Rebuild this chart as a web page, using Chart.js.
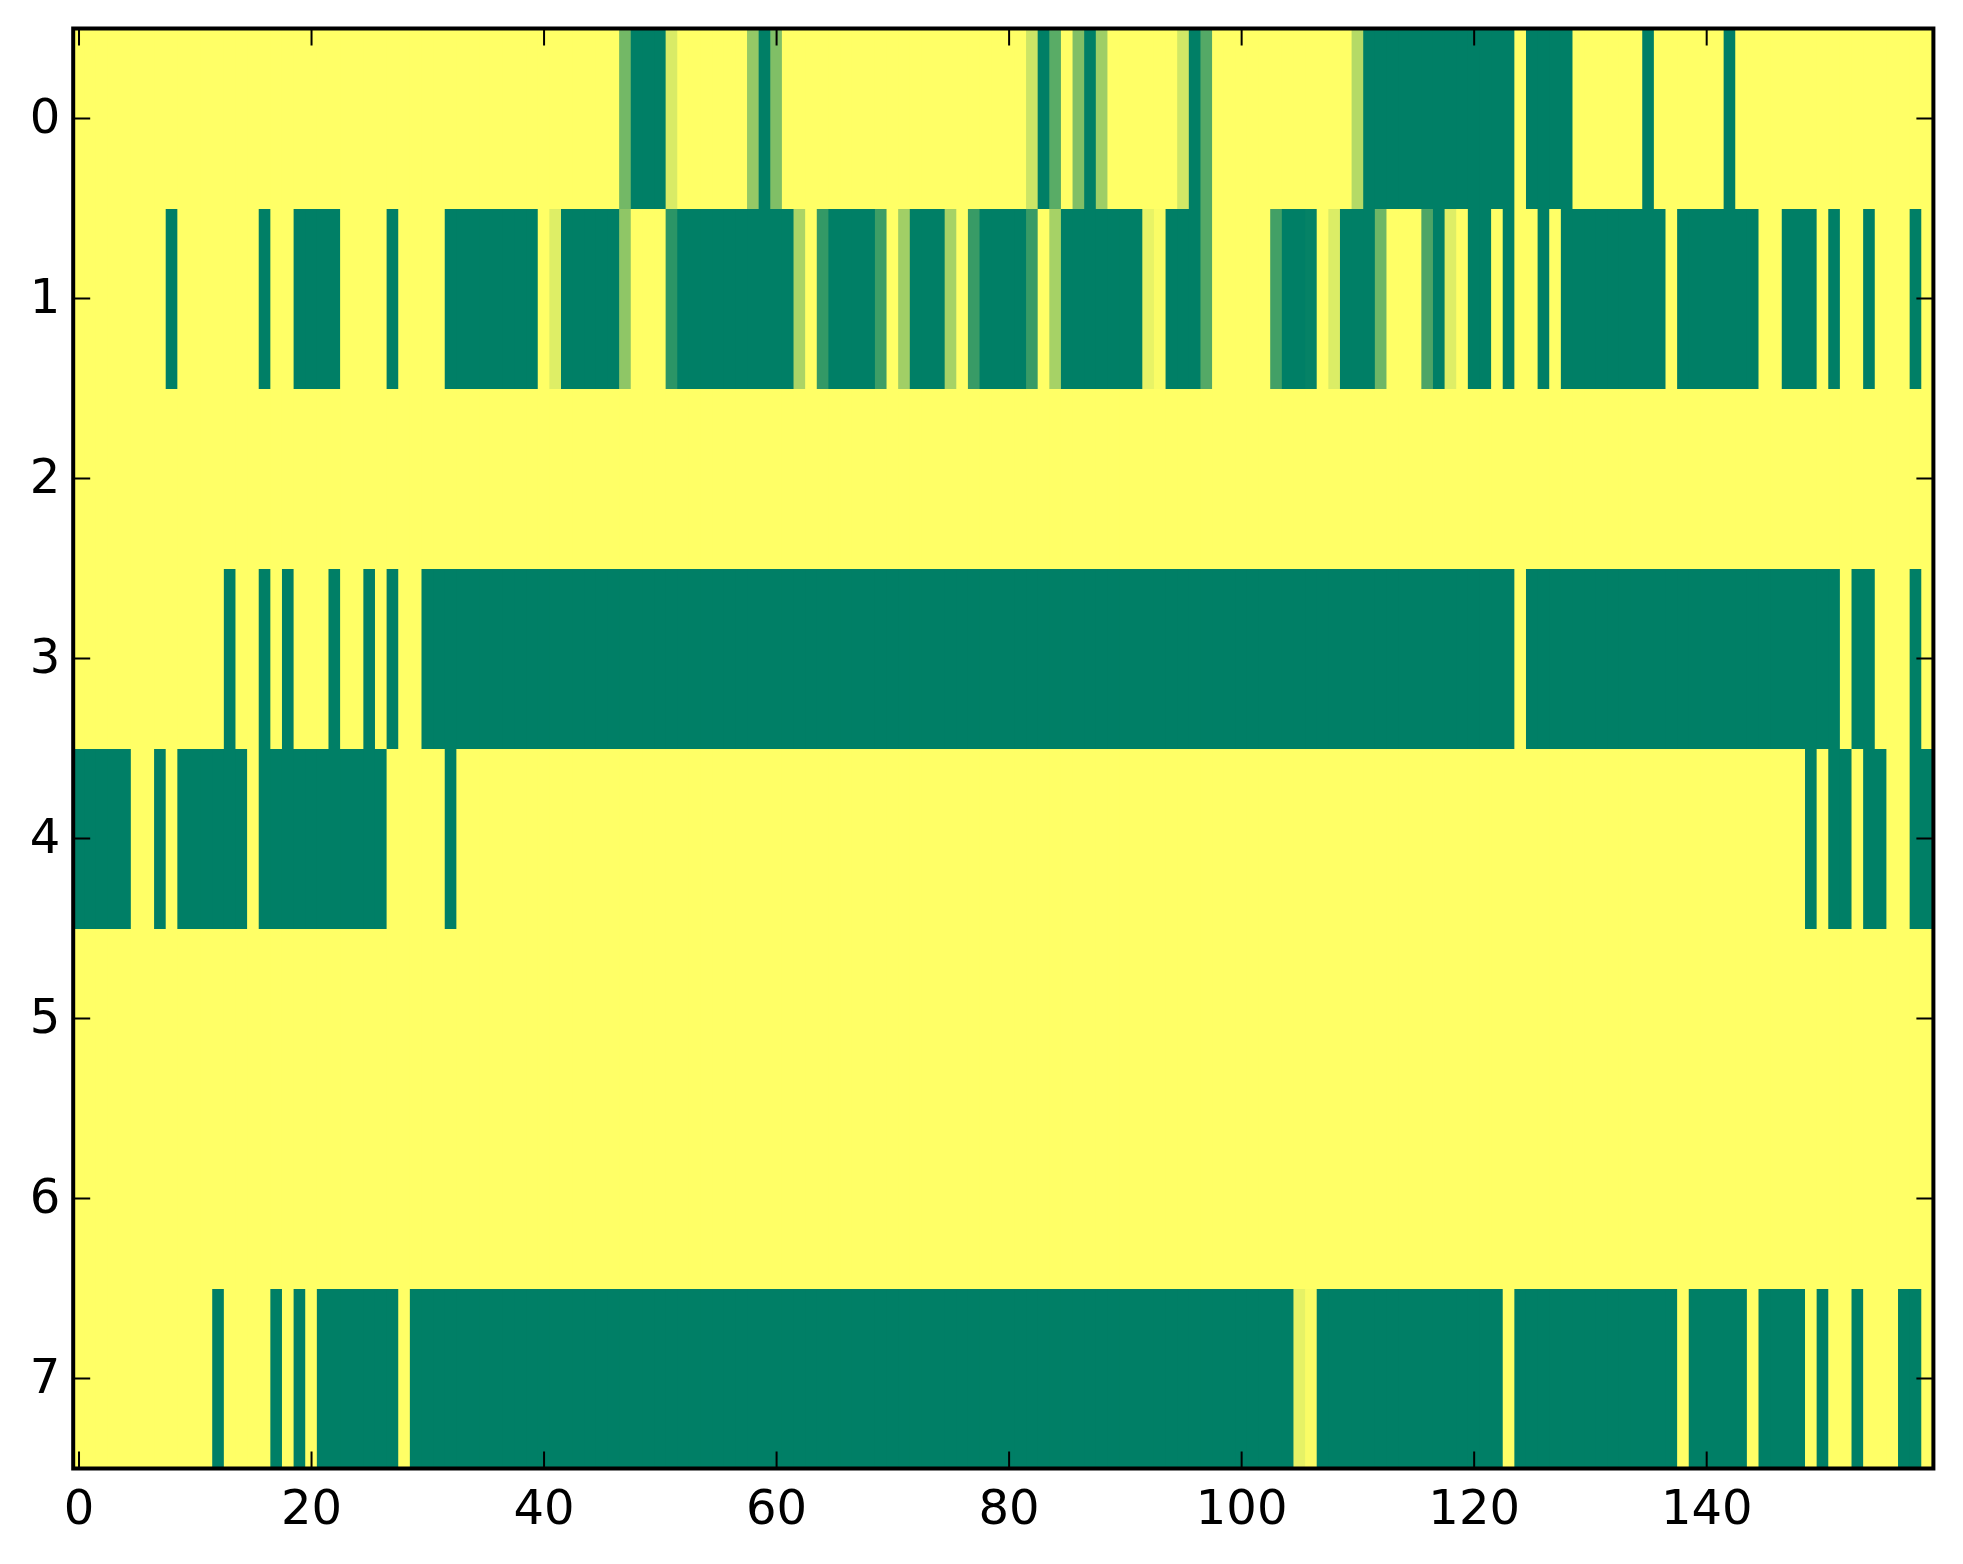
<!DOCTYPE html>
<html>
<head>
<meta charset="utf-8">
<title>Heatmap</title>
<style>
  html, body { margin: 0; padding: 0; background: #fff; }
  #wrap { width: 1963px; height: 1564px; }
</style>
</head>
<body>
<div id="wrap"><canvas id="myChart" width="1963" height="1564"></canvas></div>
<script src="https://cdn.jsdelivr.net/npm/chart.js"></script>
<script>
  // 1 = yellow end of the colormap, 0 = green end. 20 values per line.
  const row0 = [
    1,1,1,1,1,1,1,1,1,1,1,1,1,1,1,1,1,1,1,1,
    1,1,1,1,1,1,1,1,1,1,1,1,1,1,1,1,1,1,1,1,
    1,1,1,1,1,1,1,.45,0,0,0,.85,1,1,1,1,1,1,.58,0,
    .5,1,1,1,1,1,1,1,1,1,1,1,1,1,1,1,1,1,1,1,
    1,1,.8,0,.35,1,.5,0,.62,1,1,1,1,1,1,.82,0,.33,1,1,
    1,1,1,1,1,1,1,1,1,1,.71,0,0,0,0,0,0,0,0,0,
    0,0,0,0,1,0,0,0,0,1,1,1,1,1,1,0,1,1,1,1,
    1,1,0,1,1,1,1,1,1,1,1,1,1,1,1,1,1,1,1,1,
  ];
  const row1 = [
    1,1,1,1,1,1,1,1,0,1,1,1,1,1,1,1,0,1,1,0,
    0,0,0,1,1,1,1,0,1,1,1,1,0,0,0,0,0,0,0,0,
    1,.87,0,0,0,0,0,.56,1,1,1,.17,0,0,0,0,0,0,0,0,
    0,0,.67,1,.2,0,0,0,0,.24,1,.63,0,0,0,.65,1,.22,0,0,
    0,0,.22,1,.65,0,0,0,0,0,0,0,.91,.98,0,0,0,.33,1,1,
    1,1,1,.26,0,0,.02,1,.86,0,0,0,.43,1,1,1,.3,0,.87,1,
    0,0,1,0,1,1,0,1,0,0,0,0,0,0,0,0,0,1,0,0,
    0,0,0,0,0,1,1,0,0,0,1,0,1,1,0,1,1,1,0,1,
  ];
  const row2 = [
    1,1,1,1,1,1,1,1,1,1,1,1,1,1,1,1,1,1,1,1,
    1,1,1,1,1,1,1,1,1,1,1,1,1,1,1,1,1,1,1,1,
    1,1,1,1,1,1,1,1,1,1,1,1,1,1,1,1,1,1,1,1,
    1,1,1,1,1,1,1,1,1,1,1,1,1,1,1,1,1,1,1,1,
    1,1,1,1,1,1,1,1,1,1,1,1,1,1,1,1,1,1,1,1,
    1,1,1,1,1,1,1,1,1,1,1,1,1,1,1,1,1,1,1,1,
    1,1,1,1,1,1,1,1,1,1,1,1,1,1,1,1,1,1,1,1,
    1,1,1,1,1,1,1,1,1,1,1,1,1,1,1,1,1,1,1,1,
  ];
  const row3 = [
    1,1,1,1,1,1,1,1,1,1,1,1,1,0,1,1,0,1,0,1,
    1,1,0,1,1,0,1,0,1,1,0,0,0,0,0,0,0,0,0,0,
    0,0,0,0,0,0,0,0,0,0,0,0,0,0,0,0,0,0,0,0,
    0,0,0,0,0,0,0,0,0,0,0,0,0,0,0,0,0,0,0,0,
    0,0,0,0,0,0,0,0,0,0,0,0,0,0,0,0,0,0,0,0,
    0,0,0,0,0,0,0,0,0,0,0,0,0,0,0,0,0,0,0,0,
    0,0,0,0,1,0,0,0,0,0,0,0,0,0,0,0,0,0,0,0,
    0,0,0,0,0,0,0,0,0,0,0,0,1,0,0,1,1,1,0,1,
  ];
  const row4 = [
    0,0,0,0,0,1,1,0,1,0,0,0,0,0,0,1,0,0,0,0,
    0,0,0,0,0,0,0,1,1,1,1,1,0,1,1,1,1,1,1,1,
    1,1,1,1,1,1,1,1,1,1,1,1,1,1,1,1,1,1,1,1,
    1,1,1,1,1,1,1,1,1,1,1,1,1,1,1,1,1,1,1,1,
    1,1,1,1,1,1,1,1,1,1,1,1,1,1,1,1,1,1,1,1,
    1,1,1,1,1,1,1,1,1,1,1,1,1,1,1,1,1,1,1,1,
    1,1,1,1,1,1,1,1,1,1,1,1,1,1,1,1,1,1,1,1,
    1,1,1,1,1,1,1,1,1,0,1,0,0,1,0,0,1,1,0,0,
  ];
  const row5 = [
    1,1,1,1,1,1,1,1,1,1,1,1,1,1,1,1,1,1,1,1,
    1,1,1,1,1,1,1,1,1,1,1,1,1,1,1,1,1,1,1,1,
    1,1,1,1,1,1,1,1,1,1,1,1,1,1,1,1,1,1,1,1,
    1,1,1,1,1,1,1,1,1,1,1,1,1,1,1,1,1,1,1,1,
    1,1,1,1,1,1,1,1,1,1,1,1,1,1,1,1,1,1,1,1,
    1,1,1,1,1,1,1,1,1,1,1,1,1,1,1,1,1,1,1,1,
    1,1,1,1,1,1,1,1,1,1,1,1,1,1,1,1,1,1,1,1,
    1,1,1,1,1,1,1,1,1,1,1,1,1,1,1,1,1,1,1,1,
  ];
  const row6 = [
    1,1,1,1,1,1,1,1,1,1,1,1,1,1,1,1,1,1,1,1,
    1,1,1,1,1,1,1,1,1,1,1,1,1,1,1,1,1,1,1,1,
    1,1,1,1,1,1,1,1,1,1,1,1,1,1,1,1,1,1,1,1,
    1,1,1,1,1,1,1,1,1,1,1,1,1,1,1,1,1,1,1,1,
    1,1,1,1,1,1,1,1,1,1,1,1,1,1,1,1,1,1,1,1,
    1,1,1,1,1,1,1,1,1,1,1,1,1,1,1,1,1,1,1,1,
    1,1,1,1,1,1,1,1,1,1,1,1,1,1,1,1,1,1,1,1,
    1,1,1,1,1,1,1,1,1,1,1,1,1,1,1,1,1,1,1,1,
  ];
  const row7 = [
    1,1,1,1,1,1,1,1,1,1,1,1,0,1,1,1,1,0,1,0,
    1,0,0,0,0,0,0,0,1,0,0,0,0,0,0,0,0,0,0,0,
    0,0,0,0,0,0,0,0,0,0,0,0,0,0,0,0,0,0,0,0,
    0,0,0,0,0,0,0,0,0,0,0,0,0,0,0,0,0,0,0,0,
    0,0,0,0,0,0,0,0,0,0,0,0,0,0,0,0,0,0,0,0,
    0,0,0,0,0,.9,.98,0,0,0,0,0,0,0,0,0,0,0,0,0,
    0,0,0,1,0,0,0,0,0,0,0,0,0,0,0,0,0,0,1,0,
    0,0,0,0,1,0,0,0,0,1,0,1,1,0,1,1,1,0,0,1,
  ];
  const rows = [row0, row1, row2, row3, row4, row5, row6, row7];
  const xTicks = [0, 20, 40, 60, 80, 100, 120, 140];
  const yTicks = [0, 1, 2, 3, 4, 5, 6, 7];

  // matplotlib "summer" colormap
  function summer(v) {
    return `rgb(${Math.round(v * 255)},${Math.floor((0.5 + v / 2) * 255)},102)`;
  }

  const frame = {
    id: "frame",
    afterDraw(chart) {
      const { ctx, chartArea: a, scales } = chart;
      const len = 17;
      ctx.save();
      ctx.strokeStyle = "#000";
      ctx.lineWidth = 2;
      ctx.beginPath();
      xTicks.forEach((t) => {
        const x = scales.x.getPixelForValue(t);
        ctx.moveTo(x, a.top);
        ctx.lineTo(x, a.top + len);
        ctx.moveTo(x, a.bottom);
        ctx.lineTo(x, a.bottom - len);
      });
      yTicks.forEach((t) => {
        const y = scales.y.getPixelForValue(t);
        ctx.moveTo(a.left, y);
        ctx.lineTo(a.left + len, y);
        ctx.moveTo(a.right, y);
        ctx.lineTo(a.right - len, y);
      });
      ctx.stroke();
      ctx.lineWidth = 4;
      ctx.strokeRect(a.left, a.top, a.right - a.left, a.bottom - a.top);
      ctx.restore();
    },
  };

  const tickFont = { family: "'DejaVu Sans'", size: 48 };

  new Chart(document.getElementById("myChart"), {
    type: "bar",
    data: {
      datasets: rows.map((row, r) => ({
        label: "row " + r,
        data: row.map((v, i) => ({ x: i, y: [r - 0.5, r + 0.5] })),
        backgroundColor: row.map(summer),
        borderWidth: 0,
        inflateAmount: 0.5,
        barPercentage: 1,
        categoryPercentage: 1,
        grouped: false,
      })),
    },
    options: {
      responsive: false,
      animation: false,
      layout: { padding: { left: 0, top: 28.5, right: 29.6, bottom: 0 } },
      plugins: { legend: { display: false }, tooltip: { enabled: false } },
      scales: {
        x: {
          type: "linear",
          offset: false,
          min: -0.5,
          max: 159.5,
          grid: { display: false, offset: false },
          border: { display: false },
          afterBuildTicks: (s) => { s.ticks = xTicks.map((v) => ({ value: v })); },
          afterFit: (s) => { s.height = 95.5; s.paddingLeft = 0; s.paddingRight = 0; },
          ticks: { color: "#000", font: tickFont, padding: 6, maxRotation: 0, autoSkip: false },
        },
        y: {
          type: "linear",
          reverse: true,
          min: -0.5,
          max: 7.5,
          grid: { display: false },
          border: { display: false },
          afterBuildTicks: (s) => { s.ticks = yTicks.map((v) => ({ value: v })); },
          afterFit: (s) => { s.width = 73.2; s.paddingTop = 0; s.paddingBottom = 0; },
          ticks: { color: "#000", font: tickFont, padding: 5, labelOffset: 2, autoSkip: false },
        },
      },
    },
    plugins: [frame],
  });
</script>
</body>
</html>
